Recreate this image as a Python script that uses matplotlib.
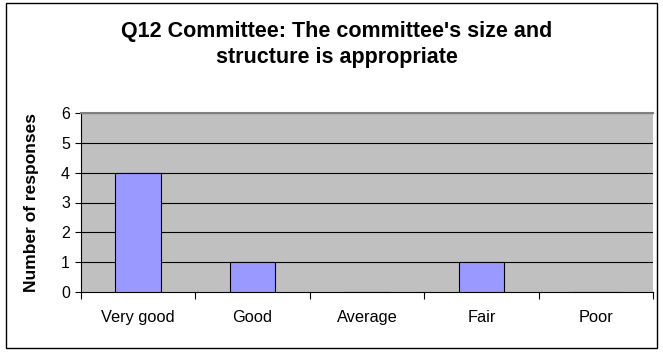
import numpy as np
import matplotlib.pyplot as plt
from matplotlib.patches import Rectangle

plt.rcParams['font.family'] = ['Liberation Sans', 'DejaVu Sans']

categories = ['Very good', 'Good', 'Average', 'Fair', 'Poor']
responses = [4, 1, 0, 1, 0]
title_lines = ["Q12 Committee: The committee's size and", "structure is appropriate"]

W, H = 663, 355
fig = plt.figure(figsize=(W / 100, H / 100), dpi=100)

# chart frame
fig.patches.append(Rectangle((6 / W, 1 - 348 / H), 651 / W, 345 / H,
                             transform=fig.transFigure, fill=False,
                             edgecolor='black', linewidth=1.0))

left, right, top, bottom = 81, 653, 113, 292
ax = fig.add_axes([left / W, 1 - bottom / H, (right - left) / W, (bottom - top) / H])
ax.set_facecolor('#C0C0C0')

x = np.arange(len(categories))
ax.bar(x, responses, width=0.4, color='#9999FF', edgecolor='black',
       linewidth=0.8, zorder=3)

ax.set_xlim(-0.5, len(categories) - 0.5)
ax.set_ylim(0, 6)
ax.set_yticks(range(0, 7))
for v in range(1, 7):
    ax.axhline(v, color='black', linewidth=0.8, zorder=1)

# ticks between categories, labels centred under the bars
ax.set_xticks(np.arange(-0.5, len(categories), 1.0))
ax.set_xticklabels([])
ax.set_xticks(x, minor=True)
ax.set_xticklabels(categories, minor=True, fontsize=11.8)
ax.tick_params(axis='x', which='major', direction='out', length=5, width=0.8)
ax.tick_params(axis='x', which='minor', length=0, pad=13)
ax.tick_params(axis='y', direction='out', length=4, width=0.8, labelsize=11.5, pad=4)

ax.spines['top'].set_color('#808080')
ax.spines['top'].set_linewidth(1.5)
ax.spines['right'].set_visible(False)
ax.spines['left'].set_linewidth(0.8)
ax.spines['bottom'].set_linewidth(0.8)

ax.set_ylabel('Number of responses', fontsize=12.5, fontweight='bold')
ax.yaxis.set_label_coords(-0.074, 0.5)

for line, base in zip(title_lines, [37, 63]):
    fig.text(337 / W, 1 - base / H, line, ha='center', va='baseline',
             fontsize=15.5, fontweight='bold')

fig.savefig('out.png', dpi=100)
